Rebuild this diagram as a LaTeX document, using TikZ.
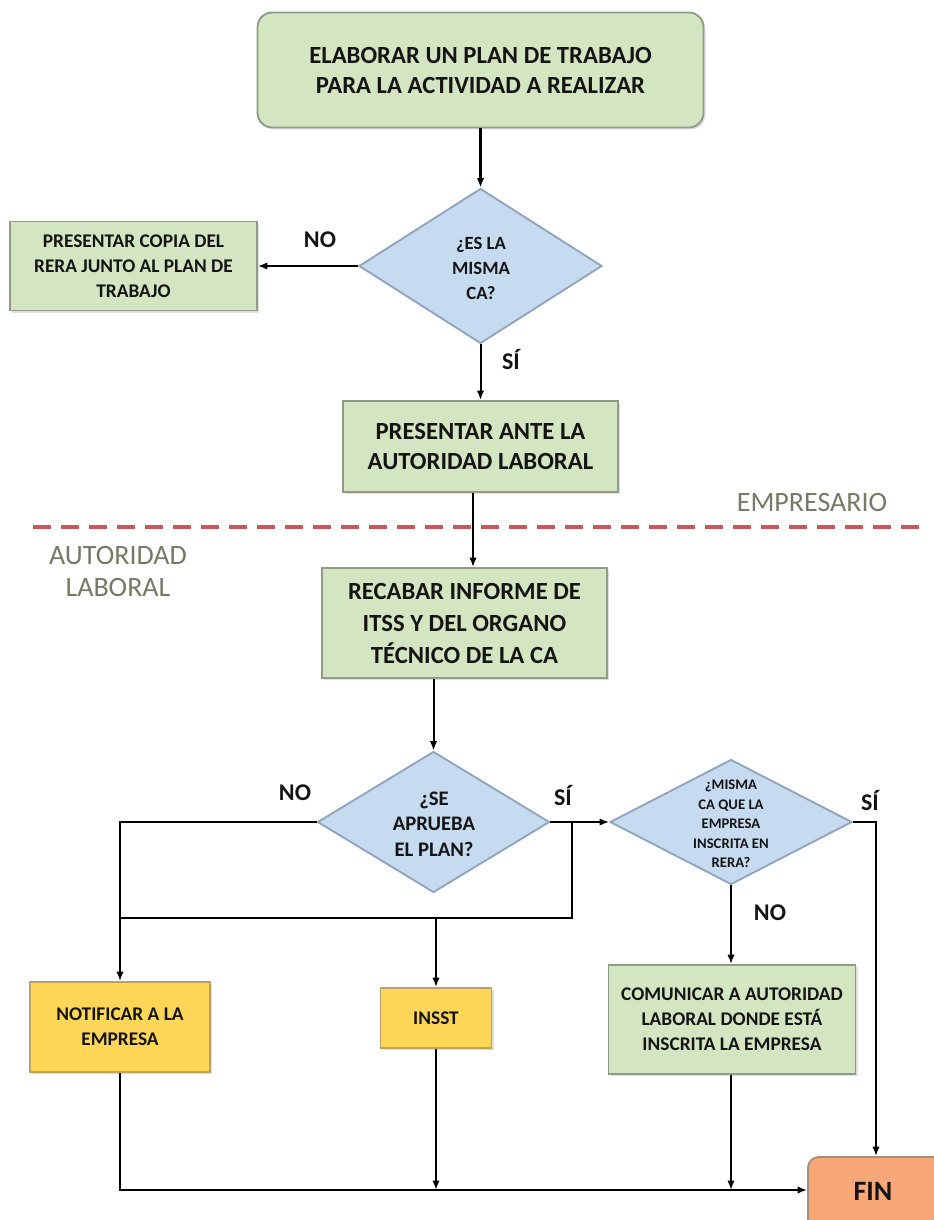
\documentclass[tikz,border=0pt]{standalone}
\usepackage{fontspec}
\setmainfont{Carlito}
\usetikzlibrary{shapes.geometric,arrows.meta,shadows}
\definecolor{boxgreen}{HTML}{D3E6C1}
\definecolor{greenborder}{HTML}{8E9C88}
\definecolor{boxblue}{HTML}{C6DAF0}
\definecolor{blueborder}{HTML}{8FA5BF}
\definecolor{boxyellow}{HTML}{FFD657}
\definecolor{yellowborder}{HTML}{B9A264}
\definecolor{boxorange}{HTML}{F8A878}
\definecolor{orangeborder}{HTML}{A88D7E}
\definecolor{laneline}{HTML}{C9585A}
\definecolor{lanetext}{HTML}{737A66}
\definecolor{ink}{HTML}{141414}
\begin{document}
\begin{tikzpicture}[x=0.75pt,y=-0.75pt,
  boxbase/.style={draw=greenborder, line width=1.4pt, inner sep=0pt, align=center, text=ink,
    drop shadow={opacity=0.25, shadow xshift=1.5pt, shadow yshift=-1.5pt}},
  greenbox/.style={boxbase, fill=boxgreen},
  yellowbox/.style={boxbase, fill=boxyellow, draw=yellowborder},
  bigtext/.style={font=\fontsize{18.5}{22.5}\selectfont\bfseries},
  smalltext/.style={font=\fontsize{14.5}{18.75}\selectfont\bfseries},
  decision/.style={shape=diamond, draw=blueborder, fill=boxblue, line width=1.4pt, inner sep=0pt},
  dtext/.style={align=center, inner sep=0pt, text=ink},
  lab/.style={font=\fontsize{18}{20}\selectfont\bfseries, text=ink, inner sep=0pt},
  lane/.style={font=\fontsize{21}{25}\selectfont, text=lanetext, inner sep=0pt, align=center},
  conn/.style={line width=1.5pt, black},
  arr/.style={conn, -{Latex[length=7pt,width=5.5pt]}}
]
\useasboundingbox (0,0) rectangle (933,1220);

% nodes
\node[greenbox, rounded corners=11pt, bigtext, minimum width=334.5pt, minimum height=86.25pt] (top) at (480.5,70)
  {ELABORAR UN PLAN DE TRABAJO\\PARA LA ACTIVIDAD A REALIZAR};
\node[decision, minimum width=182.25pt, minimum height=116.25pt] (d1) at (480.5,266) {};
\node[dtext, font=\fontsize{14}{18.75}\selectfont\bfseries] (d1t) at (481,268) {¿ES LA\\MISMA\\CA?};
\node[greenbox, smalltext, minimum width=185.25pt, minimum height=66.75pt] (copia) at (133.5,266)
  {PRESENTAR COPIA DEL\\RERA JUNTO AL PLAN DE\\TRABAJO};
\node[greenbox, bigtext, minimum width=206.25pt, minimum height=68.25pt] (ante) at (480.5,446.5)
  {PRESENTAR ANTE LA\\AUTORIDAD LABORAL};
\node[greenbox, minimum width=213.75pt, minimum height=82.5pt, font=\fontsize{18.5}{24}\selectfont\bfseries] (recab) at (464.5,623)
  {RECABAR INFORME DE\\ITSS Y DEL ORGANO\\TÉCNICO DE LA CA};
\node[decision, minimum width=174pt, minimum height=105.75pt] (d2) at (433.5,822) {};
\node[dtext, font=\fontsize{15.5}{19}\selectfont\bfseries] (d2t) at (434,824) {¿SE\\APRUEBA\\EL PLAN?};
\node[decision, minimum width=181.5pt, minimum height=93.75pt] (d3) at (731,822) {};
\node[dtext, font=\fontsize{11}{14.6}\selectfont\bfseries] (d3t) at (731,824)
  {¿MISMA\\CA QUE LA\\EMPRESA\\INSCRITA EN\\RERA?};
\node[yellowbox, smalltext, minimum width=135pt, minimum height=67.5pt] (notif) at (120,1027)
  {NOTIFICAR A LA\\EMPRESA};
\node[yellowbox, smalltext, minimum width=83.25pt, minimum height=45pt] (insst) at (436,1018) {INSST};
\node[greenbox, smalltext, minimum width=185.25pt, minimum height=81.75pt] (comun) at (732,1019.5)
  {COMUNICAR A AUTORIDAD\\LABORAL DONDE ESTÁ\\INSCRITA LA EMPRESA};
\node[boxbase, fill=boxorange, draw=orangeborder, rounded corners=8pt, minimum width=106.5pt, minimum height=58.5pt] (fin) at (879,1196) {};
\node[dtext, font=\fontsize{21}{24}\selectfont\bfseries] (fint) at (873,1191) {FIN};

% labels
\node[lab] (l1) at (320,240) {NO};
\node[lab] (l2) at (511,360) {SÍ};
\node[lab] (l3) at (295,793) {NO};
\node[lab] (l4) at (563,795) {SÍ};
\node[lab] (l5) at (870,800) {SÍ};
\node[lab] (l6) at (770,913) {NO};

% lanes
\draw[laneline, line width=3pt, dash pattern=on 13.5pt off 7.5pt] (33,527) coordinate (ls) -- (922,527) coordinate (le);
\node[lane] (emp) at (812,503) {EMPRESARIO};
\node[lane] (aut) at (118,572) {AUTORIDAD\\[-1pt]LABORAL};

% connectors
\coordinate (finin) at ([yshift=4.5pt]fin.west);
\coordinate (fintop) at ([xshift=-2.25pt]fin.north);
\draw[arr, line width=2pt] (top.south) -- (d1.north);
\draw[arr] (d1.west) -- (copia.east);
\draw[arr] (d1.south) -- (ante.north);
\coordinate (c4) at (473,0);
\draw[arr] (ante.south -| c4) -- (recab.north -| c4);
\draw[arr] (recab.south -| d2.north) -- (d2.north);
\draw[arr] (d2.west) -| (notif.north);
\draw[arr] (d2.east) -- (d3.west);
\coordinate (j1) at (572,822);
\coordinate (j2) at (572,918);
\draw[conn] (j1) -- (j2) -- (j2 -| notif.north);
\draw[arr] (j2 -| insst.north) -- (insst.north);
\draw[arr] (d3.east) -| (fintop);
\draw[arr] (d3.south) -- (d3.south |- comun.north);
\draw[arr] (notif.south) |- (finin);
\draw[arr] (insst.south) -- (insst.south |- finin);
\draw[arr] (comun.south -| d3.south) -- (d3.south |- finin);
\end{tikzpicture}
\end{document}
